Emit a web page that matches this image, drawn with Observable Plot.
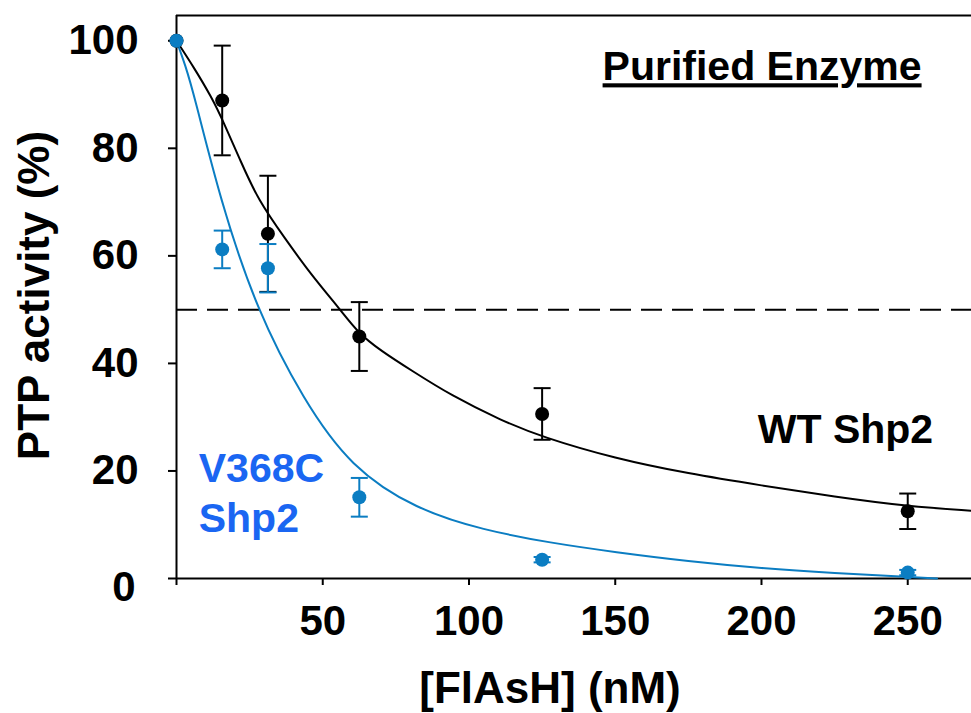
<!DOCTYPE html>
<html>
<head>
<meta charset="utf-8">
<script src="https://cdn.jsdelivr.net/npm/d3@7"></script>
<script src="https://cdn.jsdelivr.net/npm/@observablehq/plot@0.6"></script>
<style>
  html, body { margin: 0; padding: 0; background: #fff; }
  #chart { width: 971px; height: 713px; }
</style>
</head>
<body>
<div id="chart"></div>
<script>
// ---- Measured data (concentration of FlAsH, nM) ----
const conc = [0, 15.625, 31.25, 62.5, 125, 250];

// WT Shp2: mean PTP activity (%) and error
const wtActivity = [100, 88.9, 64.1, 45.0, 30.6, 12.5];
const wtError    = [0, 10.2, 10.8, 6.4, 4.8, 3.3];

// V368C Shp2: mean PTP activity (%) and error
const mutActivity = [100, 61.2, 57.7, 15.1, 3.5, 1.1];
const mutError    = [0, 3.5, 4.5, 3.6, 0.5, 0.5];

// ---- Fitted curves ----
const wtFitX = [0, 6, 12, 16, 22, 28, 37, 46, 56, 62, 70, 80, 94, 111, 125, 150, 175, 200, 225, 250, 272];
const wtFitY = [100, 95, 89.5, 85, 77.5, 70.3, 63.3, 56.5, 50, 45.7, 42.3, 38.8, 34, 29.4, 26.3, 22.3, 19.5, 17.3, 15.2, 13.4, 12.6];

const mutFitX = [0, 3, 6, 15, 27.4, 43.5, 59.5, 82, 105, 128, 150, 175, 200, 225, 250, 260];
const mutFitY = [100, 95.5, 90, 70.3, 49.9, 33.1, 20.7, 12.8, 9.0, 6.6, 4.9, 3.2, 1.9, 1.0, 0.3, 0];

// ---- Axis ticks and reference ----
const xTicks = [0, 50, 100, 150, 200, 250];
const yTicks = [0, 20, 40, 60, 80, 100];
const halfActivity = 50;
const xMax = 271.8;
const yMax = 104.7;

// ---- Build tables ----
const wt  = conc.map((x, i) => ({x, y: wtActivity[i], e: wtError[i]}));
const mut = conc.map((x, i) => ({x, y: mutActivity[i], e: mutError[i]}));
const wtFit  = wtFitX.map((x, i) => ({x, y: wtFitY[i]}));
const mutFit = mutFitX.map((x, i) => ({x, y: mutFitY[i]}));

const BLACK = "#000000";
const BLUE = "#0b7dc2";
const LABEL_BLUE = "#1a66f2";

// horizontal cap symbol for error bars
const capSymbol = {
  draw(context, size) {
    const r = Math.sqrt(size / Math.PI);
    context.moveTo(-r, 0);
    context.lineTo(r, 0);
  }
};

function errorMarks(data, color) {
  const withErr = data.filter(d => d.e > 0);
  return [
    Plot.ruleX(withErr, {x: "x", y1: d => d.y - d.e, y2: d => d.y + d.e, stroke: color, strokeWidth: 2}),
    Plot.dot(withErr, {x: "x", y: d => d.y + d.e, symbol: capSymbol, r: 8.5, stroke: color, strokeWidth: 2, fill: "none"}),
    Plot.dot(withErr, {x: "x", y: d => d.y - d.e, symbol: capSymbol, r: 8.5, stroke: color, strokeWidth: 2, fill: "none"})
  ];
}

const chart = Plot.plot({
  width: 971,
  height: 713,
  marginLeft: 176,
  marginRight: 0,
  marginTop: 15,
  marginBottom: 135,
  style: {
    fontFamily: "'Liberation Sans', Arial, Helvetica, sans-serif",
    fontWeight: "bold",
    background: "#ffffff",
    color: "#000000",
    overflow: "visible"
  },
  x: {domain: [0, xMax]},
  y: {domain: [0, yMax]},
  marks: [
    // frame lines
    Plot.ruleY([yMax], {stroke: BLACK, strokeWidth: 2}),
    Plot.ruleX([0], {stroke: BLACK, strokeWidth: 2}),
    Plot.ruleY([0], {stroke: BLACK, strokeWidth: 2}),
    // axes
    Plot.axisX({ticks: xTicks, tickSize: 7, tickPadding: 20, fontSize: 42, strokeWidth: 2,
      tickFormat: d => d === 0 ? "" : String(d), label: null}),
    Plot.axisY({ticks: yTicks, tickSize: 8, tickPadding: 30, fontSize: 42, strokeWidth: 2,
      tickFormat: d => d === 0 ? "" : String(d), label: null}),
    Plot.text([0], {x: 0, y: d => d, text: d => String(d), textAnchor: "end", dx: -41, dy: 9, fontSize: 42}),
    // axis titles
    Plot.text(["[FlAsH] (nM)"], {frameAnchor: "bottom", text: d => d, textAnchor: "middle", dx: -24, dy: 124, lineAnchor: "bottom", fontSize: 44}),
    Plot.text(["PTP activity (%)"], {frameAnchor: "left", text: d => d, textAnchor: "middle", rotate: -90, dx: -128, dy: -1.5, lineAnchor: "bottom", fontSize: 44}),
    // 50% reference
    Plot.ruleY([halfActivity], {stroke: BLACK, strokeWidth: 2, strokeDasharray: "21,10"}),
    // fitted curves
    Plot.line(wtFit, {x: "x", y: "y", stroke: BLACK, strokeWidth: 2, curve: "basis"}),
    Plot.line(mutFit, {x: "x", y: "y", stroke: BLUE, strokeWidth: 2, curve: "basis"}),
    // error bars
    ...errorMarks(wt, BLACK),
    ...errorMarks(mut, BLUE),
    // points
    Plot.dot(wt, {x: "x", y: "y", r: 7, fill: BLACK, stroke: "none"}),
    Plot.dot(mut, {x: "x", y: "y", r: 7, fill: BLUE, stroke: "none"}),
    // annotations
    Plot.text(["Purified Enzyme"], {x: 200.2, y: 92.65, text: d => d, textAnchor: "middle", lineAnchor: "bottom", fontSize: 41, fill: BLACK}),
    Plot.text(["WT Shp2"], {x: 228.7, y: 25.2, text: d => d, textAnchor: "middle", lineAnchor: "bottom", fontSize: 41, fill: BLACK}),
    Plot.text(["V368C\nShp2"], {x: 7.6, y: 8.6, text: d => d, textAnchor: "start", lineAnchor: "bottom", lineHeight: 1.22, fontSize: 41, fill: LABEL_BLUE})
  ]
});

chart.querySelectorAll("text").forEach(t => {
  if (t.textContent === "Purified Enzyme") t.style.textDecoration = "underline";
});

document.getElementById("chart").appendChild(chart);
</script>
</body>
</html>
